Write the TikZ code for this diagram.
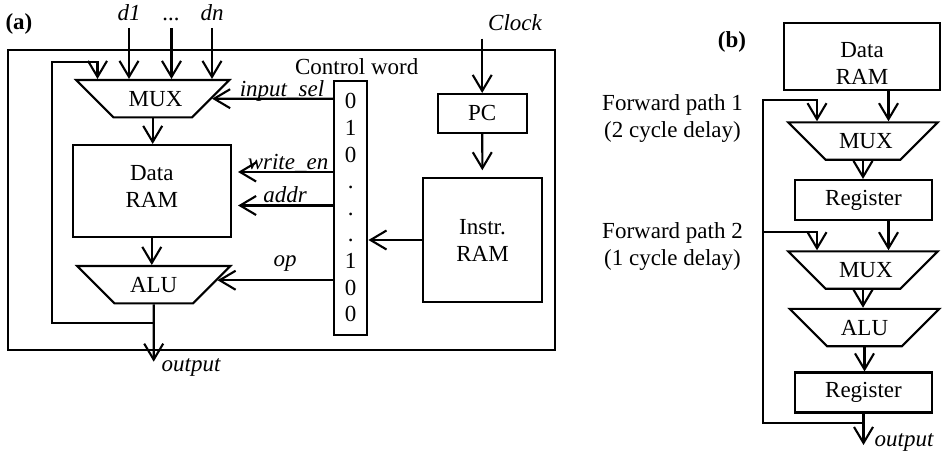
\documentclass[tikz,border=0pt]{standalone}
\usepackage{fontspec}
\setmainfont{Liberation Serif}
\usetikzlibrary{arrows.meta, shapes.geometric}
\newcommand\figfont{\fontsize{11.5}{13.5}\selectfont}
\tikzset{
  blockbox/.style={draw, rectangle, inner sep=0pt, align=center},
  trapbox/.style={draw, trapezium, shape border rotate=180, trapezium angle=45,
    text width=24pt, align=center, inner xsep=#1, inner ysep=5.6pt,
    text height=7.5pt, text depth=0pt},
  sig/.style={font=\figfont\itshape},
  tag/.style={font=\figfont\bfseries},
}

\begin{document}
\begin{tikzpicture}[x=0.5pt, y=-0.5pt, line width=1.05pt, font=\figfont,
    >={Straight Barb[length=8pt,width=9.5pt]}]
\useasboundingbox (0,0) rectangle (942,450);

% (a) datapath driven by a control word
\node[tag, anchor=base] (laba) at (19,29) {(a)};
\draw (8.3,50) rectangle (555,350);
\node[sig, anchor=base] (d1) at (129,20) {d1};
\node[sig, anchor=base] (dd) at (171.5,20) {...};
\node[sig, anchor=base] (dn) at (212,20) {dn};
\node[sig, anchor=base] (clk) at (515,30.7) {Clock};
\node[anchor=base] (cwlab) at (356.7,74) {Control word};
\node[trapbox=7.6pt] (mux) at (152.7,98.7) {MUX};
\node[blockbox, minimum width=79.2pt, minimum height=46.2pt] (dram) at (151.8,191.2) {};
\node[align=center] (dramtxt) at (151.8,186.5) {Data\\RAM};
\node[trapbox=7.6pt] (alu) at (153.7,284.7) {ALU};
\node[blockbox, minimum width=16.7pt, minimum height=127.2pt, font=\fontsize{11.5}{13.3}\selectfont]
  (cw) at (350.7,207.8) {0\\1\\0\\.\\.\\.\\1\\0\\0};
\node[blockbox, minimum width=44.5pt, minimum height=19.3pt] (pc) at (482.2,113.3) {PC};
\node[blockbox, minimum width=59.2pt, minimum height=61.7pt] (iram) at (482.5,240) {Instr.\\RAM};
\node[sig, anchor=base] (insel) at (282,96) {input\_sel};
\node[sig, anchor=base] (wen) at (288,169) {write\_en};
\node[sig, anchor=base] (adr) at (285,202) {addr};
\node[sig, anchor=base] (opl) at (285,266) {op};
\coordinate (rwen) at (0,172);
\coordinate (radr) at (0,205.5);
\coordinate (fba) at (153.7,322.7);
\coordinate (fbl) at (51.7,61.7);
\coordinate (fbt) at (97.5,61.7);
\coordinate (outa) at (153.7,361.7);
\node[sig, anchor=base west] (outlab) at (154,371.7) {output};

\foreach \s in {d1,dd,dn}
  \draw[->] (\s) -- (\s |- mux.north);
\draw[->] (fba) -| (fbl) -- (fbt) -- (fbt |- mux.north);
\draw[->] (mux.south) -- (mux.south |- dram.north);
\draw[->] (dram.south) -- (dram.south |- alu.north);
\draw[->] (alu.south) -- (outa);
\draw[->] (mux -| cw.west) -- (mux);
\draw[->] (cw.west |- rwen) -- ([xshift=3pt]dram.east |- rwen);
\draw[->] (cw.west |- radr) -- ([xshift=3pt]dram.east |- radr);
\draw[->] (alu.4 -| cw.west) -- (alu.4);
\draw[->] (clk.south -| pc) -- (pc);
\draw[->, shorten >=3.5pt] (pc) -- (iram);
\draw[->] (iram) -- (iram -| cw.east);

% (b) pipelined version with forward paths
\node[tag, anchor=base] (labb) at (732,47) {(b)};
\node[blockbox, minimum width=78pt, minimum height=33.5pt] (dramb) at (862,56.5) {};
\node[align=center] (drambtxt) at (862,63.5) {Data\\RAM};
\node[trapbox=6.75pt] (muxb1) at (863,141) {MUX};
\node[blockbox, minimum width=68.5pt, minimum height=20pt] (regb1) at (863.5,200) {Register};
\node[trapbox=6.75pt] (muxb2) at (863,270) {MUX};
\node[trapbox=6.75pt] (alub) at (864.5,327.5) {ALU};
\node[blockbox, minimum width=68.5pt, minimum height=20pt] (regb2) at (863.5,392.5) {Register};
\node[align=center] (fp1) at (672.5,118) {Forward path 1\\(2 cycle delay)};
\node[align=center] (fp2) at (672.5,246) {Forward path 2\\(1 cycle delay)};
\coordinate (fbb) at (863.5,423);
\coordinate (fb1) at (763,100);
\coordinate (fb2) at (763,232);
\coordinate (outb) at (863.5,445);
\node[sig, anchor=base west] (outblab) at (867,446) {output};

\draw[->] ([xshift=13.25pt]dramb.south) -- ([xshift=13.25pt]dramb.south |- muxb1.north);
\draw[->] (muxb1.south) -- (muxb1.south |- regb1.north);
\draw[->] ([xshift=12.5pt]regb1.south) -- ([xshift=12.5pt]regb1.south |- muxb2.north);
\draw[->] (muxb2.south) -- (muxb2.south |- alub.north);
\draw[->] (alub.south) -- (alub.south |- regb2.north);
\draw[->] (regb2) -- (outb);
\draw[->] (fbb) -| (fb1) -| ([xshift=-23pt]muxb1.north);
\draw[->] (fb2) -| ([xshift=-23pt]muxb2.north);
\end{tikzpicture}
\end{document}
